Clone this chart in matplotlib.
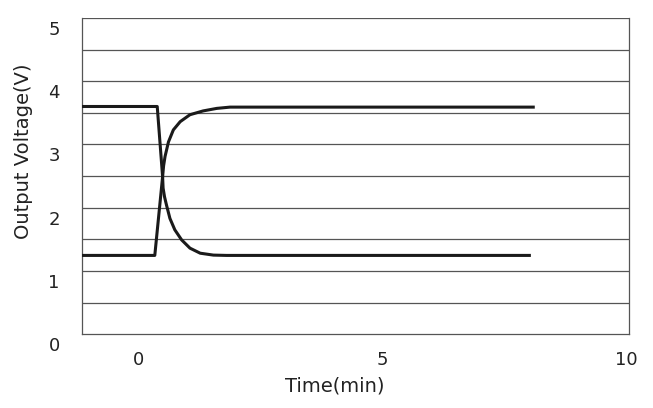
import matplotlib
matplotlib.use("Agg")
import matplotlib.pyplot as plt
from matplotlib.transforms import ScaledTranslation

# Data (time in minutes, voltage in V)
t_falling = [-1.15, 0.39, 0.50, 0.51, 0.54, 0.58, 0.65, 0.75, 0.89, 1.06, 1.27, 1.54, 1.81, 8.04]
v_falling = [3.60, 3.60, 2.49, 2.31, 2.17, 2.04, 1.83, 1.65, 1.49, 1.36, 1.28, 1.25, 1.245, 1.245]

t_rising = [-1.15, 0.34, 0.50, 0.52, 0.55, 0.62, 0.72, 0.86, 1.06, 1.33, 1.61, 1.88, 8.12]
v_rising = [1.245, 1.245, 2.49, 2.66, 2.81, 3.04, 3.23, 3.36, 3.47, 3.53, 3.57, 3.59, 3.59]

x_ticks = [0, 5, 10]
y_ticks = [0, 1, 2, 3, 4, 5]
y_grid = [0.5, 1, 1.5, 2, 2.5, 3, 3.5, 4, 4.5, 5]

fig = plt.figure(figsize=(6.53, 4.08), dpi=100)
ax = fig.add_axes([0.1256, 0.181, 0.8377, 0.775])

for g in y_grid:
    ax.axhline(g, color="#555555", lw=0.9, zorder=1)

ax.plot(t_falling, v_falling, color="#1a1a1a", lw=2.2, zorder=3,
        solid_joinstyle="round", solid_capstyle="butt")
ax.plot(t_rising, v_rising, color="#1a1a1a", lw=2.2, zorder=3,
        solid_joinstyle="round", solid_capstyle="butt")

ax.set_xlim(-1.15, 10.05)
ax.set_ylim(0, 5)
ax.set_xticks(x_ticks)
ax.set_yticks(y_ticks)
ax.tick_params(axis="both", length=0, labelsize=13, colors="#222222")
ax.tick_params(axis="y", pad=16)
ax.tick_params(axis="x", pad=12)

ax.spines["top"].set_visible(False)
for sp in ["left", "right", "bottom"]:
    ax.spines[sp].set_color("#555555")
    ax.spines[sp].set_linewidth(0.9)

off = ScaledTranslation(0, -10 / 100, fig.dpi_scale_trans)
for lab in ax.get_yticklabels():
    lab.set_transform(lab.get_transform() + off)

ax.set_xlabel("Time(min)", fontsize=14, color="#222222")
ax.set_ylabel("Output Voltage(V)", fontsize=14, color="#222222")
ax.xaxis.set_label_coords(0.4625, -0.135)
ax.yaxis.set_label_coords(-0.09, 0.579)

fig.savefig("out.png", dpi=100, facecolor="white")
